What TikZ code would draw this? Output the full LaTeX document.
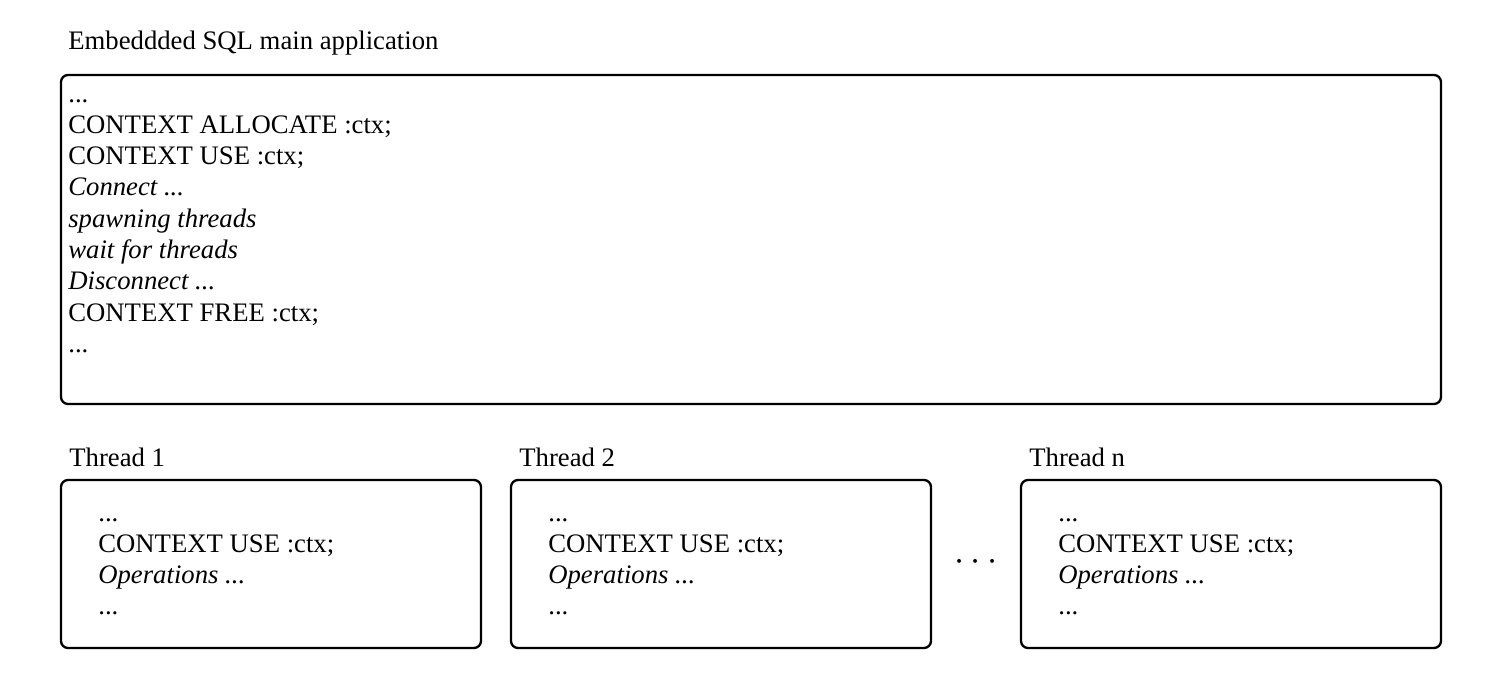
\documentclass[tikz,border=0pt]{standalone}
\usepackage{fontspec}
\setmainfont{Liberation Serif}
\begin{document}
\begin{tikzpicture}[x=0.02cm,y=-0.02cm,
  box/.style={draw,line width=1.3pt,rounded corners=4pt},
  code/.style={anchor=north west,align=left,inner sep=0pt,font=\fontsize{15.2}{17.8}\selectfont}]
        \useasboundingbox (0,0) rectangle (1502,679);

        \draw[box] (61,75) rectangle (1441,404);
        \node[code,anchor=west] (title) at (68,43) {Embeddded SQL main application};
        \node[code] (main) at (68,99) {...\\CONTEXT ALLOCATE :ctx;\\CONTEXT USE :ctx;\\\textit{Connect ...}\\\textit{spawning threads}\\\textit{wait for threads}\\\textit{Disconnect ...}\\CONTEXT FREE :ctx;\\...};

        \foreach \x/\n in {61/1,511/2,1021/n}{
        \begin{scope}[shift={(\x,0)}]
        \draw[box] (0,480) rectangle (420,648);
        \node[code,anchor=west] (thread\n) at (8,457) {Thread \n};
        \node[code] (ops\n) at (37,518) {...\\CONTEXT USE :ctx;\\\textit{Operations ...}\\...};
        \end{scope}
        }
        \node (dots) at (976,562) {\huge$\cdots$};
\end{tikzpicture}
\end{document}
